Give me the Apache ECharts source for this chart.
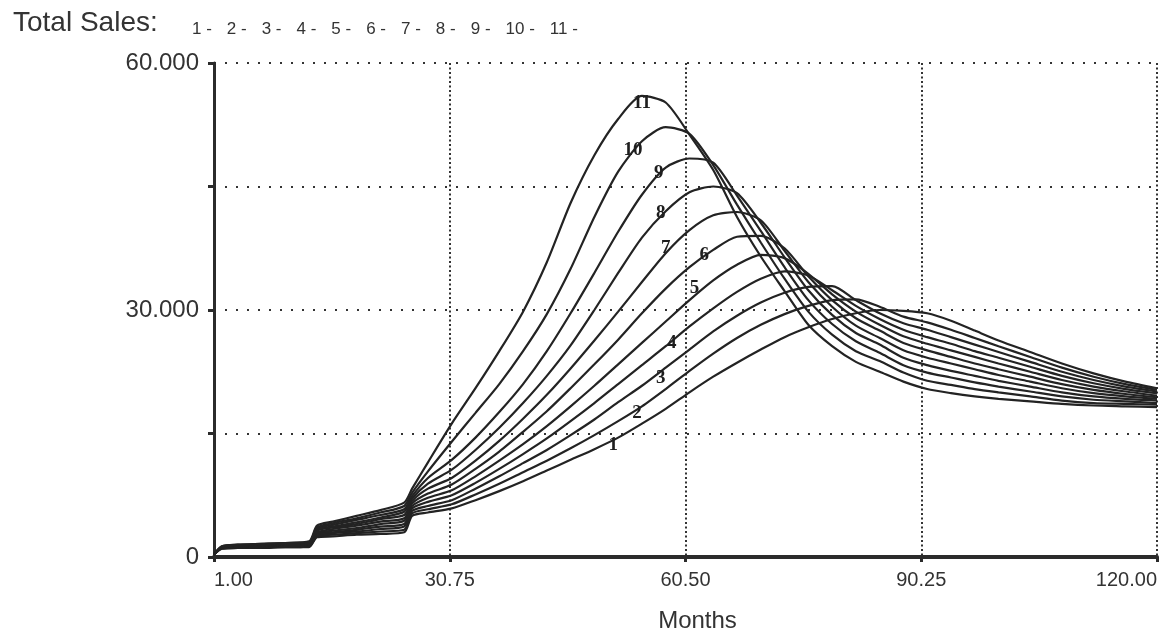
<!DOCTYPE html>
<html><head><meta charset="utf-8">
<script src="https://cdn.jsdelivr.net/npm/echarts@6/dist/echarts.min.js"></script>
<style>html,body{margin:0;padding:0;background:#fff}#c{width:1170px;height:639px}</style>
</head><body><div id="c"></div>
<script>
const months = [1,2,4,7,10,13,14,16,19,22,25,26,28,31,34,37,40,43,46,49,52,55,58,61,64,67,70,73,76,79,82,85,88,91,94,97,100,104,108,112,116,120];
// Total Sales (thousands) for runs 1..11
const sales1 = [0.3,1.0,1.1,1.1,1.2,1.2,2.4,2.5,2.7,2.8,3.0, 5.0,5.4,5.9,6.9,8.0,9.2,10.5,11.8,13.1,14.5,16.2,18.0,20.0,21.9,23.6,25.2,26.7,27.9,28.9,29.6,30.0,29.9,29.6,28.7,27.5,26.3,24.9,23.5,22.3,21.3,20.5];
const sales2 = [0.3,1.0,1.1,1.2,1.2,1.3,2.5,2.7,2.9,3.1,3.3, 5.3,5.8,6.4,7.6,8.9,10.3,11.7,13.2,14.8,16.5,18.3,20.4,22.6,24.7,26.6,28.2,29.5,30.5,31.2,31.3,30.4,29.2,28.5,27.6,26.6,25.6,24.3,23.0,21.9,21.0,20.3];
const sales3 = [0.3,1.1,1.2,1.2,1.3,1.4,2.6,2.9,3.1,3.4,3.7, 5.6,6.2,6.9,8.3,9.8,11.4,13.0,14.8,16.7,18.8,20.8,23.0,25.2,27.4,29.3,30.9,32.1,32.8,32.9,31.2,29.6,28.4,27.6,26.7,25.8,24.9,23.7,22.5,21.5,20.7,20.1];
const sales4 = [0.3,1.1,1.2,1.3,1.3,1.4,2.8,3.0,3.3,3.7,4.0, 5.9,6.7,7.5,9.0,10.7,12.5,14.4,16.5,18.7,21.0,23.3,25.6,28.0,30.2,32.2,33.8,34.7,34.2,32.4,30.5,28.9,27.6,26.7,25.9,25.0,24.2,23.1,22.0,21.1,20.4,19.9];
const sales5 = [0.3,1.1,1.2,1.3,1.4,1.5,2.9,3.2,3.5,4.0,4.4, 6.2,7.2,8.1,9.8,11.7,13.7,15.9,18.3,20.8,23.4,26.0,28.6,31.2,33.6,35.5,36.7,36.3,34.4,31.9,29.8,28.2,26.8,25.9,25.1,24.3,23.5,22.5,21.5,20.7,20.1,19.6];
const sales6 = [0.3,1.2,1.3,1.4,1.5,1.6,3.0,3.4,3.8,4.3,4.7, 6.5,7.7,8.8,10.7,12.8,15.2,17.7,20.5,23.4,26.4,29.6,32.6,35.2,37.3,38.9,39.0,37.5,34.1,31.2,29.0,27.5,26.0,25.1,24.3,23.5,22.8,21.9,21.0,20.3,19.8,19.4];
const sales7 = [0.3,1.2,1.3,1.4,1.5,1.6,3.2,3.6,4.0,4.6,5.1, 6.8,8.3,9.6,11.7,14.1,16.8,19.7,22.9,26.3,29.8,33.4,36.9,39.7,41.5,41.9,40.9,37.2,33.4,30.4,28.1,26.6,25.1,24.2,23.5,22.8,22.1,21.3,20.5,19.9,19.5,19.2];
const sales8 = [0.3,1.2,1.4,1.5,1.6,1.7,3.3,3.7,4.2,4.8,5.5, 7.1,8.9,10.6,13.0,15.7,18.7,22.0,25.7,30.0,34.5,38.8,42.0,44.3,45.0,44.2,40.6,36.4,32.4,29.4,27.2,25.8,24.2,23.3,22.6,22.0,21.4,20.7,20.0,19.5,19.2,19.0];
const sales9 = [0.3,1.2,1.4,1.5,1.6,1.7,3.5,3.9,4.5,5.1,5.8, 7.4,9.6,11.8,14.5,17.6,21.0,25.0,29.6,34.5,39.5,44.0,47.3,48.4,47.9,43.9,39.6,35.2,31.2,28.3,26.2,24.8,23.3,22.4,21.8,21.2,20.7,20.1,19.5,19.1,18.9,18.7];
const sales10 = [0.3,1.3,1.5,1.6,1.7,1.8,3.6,4.1,4.7,5.4,6.2, 7.8,10.4,14.0,17.5,21.0,25.0,29.5,35.0,41.3,46.8,50.5,52.2,51.4,47.6,42.8,38.2,33.8,29.8,27.0,25.0,23.8,22.4,21.4,20.9,20.4,20.0,19.5,19.0,18.7,18.6,18.5];
const sales11 = [0.3,1.3,1.5,1.6,1.7,1.9,3.8,4.3,5.0,5.7,6.6, 8.3,11.5,16.2,20.5,25.0,29.8,35.8,43.0,48.8,53.2,56.0,55.2,51.3,47.0,41.3,36.5,32.3,28.2,25.6,23.7,22.5,21.3,20.4,19.9,19.5,19.2,18.9,18.6,18.4,18.3,18.2];
const runNames = ['1','2','3','4','5','6','7','8','9','10','11'];
// month at which each run's number is written on its curve
const labelMonths = [52,55,58,58,61,64,58,58,58,55,55];
const xTickValues = [1, 30.75, 60.5, 90.25, 120];
const yTickValues = [0, 15, 30, 45, 60];

const allSales = [sales1,sales2,sales3,sales4,sales5,sales6,sales7,sales8,sales9,sales10,sales11];
const labelOffsets = [[-5,7],[-5,7],[-5,10],[6,-3],[5,-12],[-9,5],[0,-5],[-5,2],[-7,6],[-9,9],[0,7]];
const xStart = xTickValues[0];

const series = allSales.map((vals, k) => ({
  type: 'line',
  name: runNames[k],
  data: vals.map((v, i) => {
    const item = { value: [months[i] - xStart, v] };
    if (months[i] === labelMonths[k]) {
      item.label = { show: true, formatter: runNames[k], offset: labelOffsets[k] };
    }
    return item;
  }),
  showSymbol: true,
  symbol: 'circle',
  symbolSize: 0,
  smooth: 0.25,
  silent: true,
  lineStyle: { color: '#232323', width: 2.2 },
  itemStyle: { color: '#232323' },
  label: { show: false, position: 'inside', fontFamily: 'Liberation Serif', fontWeight: 'bold', fontSize: 19, color: '#1e1e1e' }
}));

const chart = echarts.init(document.getElementById('c'), null, { renderer: 'canvas' });
chart.setOption({
  animation: false,
  backgroundColor: '#ffffff',
  title: {
    text: 'Total Sales:', left: 8, top: 4,
    textStyle: { fontFamily: 'Liberation Sans', fontSize: 28, fontWeight: 'normal', color: '#333' }
  },
  legend: {
    data: runNames, left: 182, top: 16, icon: 'none', itemWidth: 0, itemHeight: 0, itemGap: 10,
    selectedMode: false,
    formatter: n => n + ' -',
    textStyle: { fontFamily: 'Liberation Sans', fontSize: 17, color: '#333' }
  },
  grid: { left: 214, right: 13, top: 63, bottom: 82, containLabel: false },
  xAxis: {
    type: 'value',
    min: xTickValues[0] - xStart,
    max: xTickValues[xTickValues.length - 1] - xStart,
    interval: xTickValues[1] - xTickValues[0],
    axisLine: { show: true, lineStyle: { color: '#2b2b2b', width: 4 } },
    axisTick: { show: true, length: 5, lineStyle: { color: '#2b2b2b', width: 3 } },
    axisLabel: {
      formatter: v => (v + xStart).toFixed(2),
      fontFamily: 'Liberation Sans', fontSize: 20, color: '#333', margin: 13,
      alignMinLabel: 'left', alignMaxLabel: 'right'
    },
    splitLine: { show: true, lineStyle: { type: [2, 2.5], color: '#333', width: 2 } },
    name: 'Months', nameLocation: 'middle', nameGap: 52,
    nameTextStyle: { fontFamily: 'Liberation Sans', fontSize: 24, color: '#333', padding: [0, 0, 0, 24] }
  },
  yAxis: {
    type: 'value',
    min: yTickValues[0], max: yTickValues[yTickValues.length - 1],
    interval: yTickValues[1] - yTickValues[0],
    axisLine: { show: true, lineStyle: { color: '#2b2b2b', width: 3 } },
    axisTick: { show: true, length: 6, lineStyle: { color: '#2b2b2b', width: 3 } },
    axisLabel: {
      formatter: v => v === 0 ? '0' : (v % 30 === 0 ? v.toFixed(3) : ''),
      fontFamily: 'Liberation Sans', fontSize: 24, color: '#333', margin: 15
    },
    splitLine: { show: true, lineStyle: { type: [2, 9], color: '#333', width: 2 } }
  },
  series: series
});
</script>
</body></html>
